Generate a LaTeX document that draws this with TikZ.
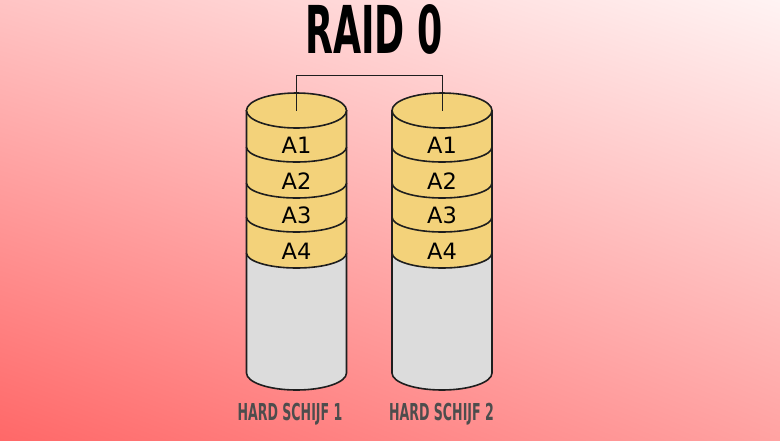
\documentclass[tikz,border=0pt]{standalone}
\usepackage{fontspec}
\setmainfont{DejaVu Sans}
\usepackage{graphicx}
\usetikzlibrary{shadings}
\definecolor{bgUL}{HTML}{FFC4C4}
\definecolor{bgUR}{HTML}{FFF3F3}
\definecolor{bgLL}{HTML}{FF6868}
\definecolor{bgLR}{HTML}{FFA2A2}
\definecolor{layer}{HTML}{F3D27A}
\definecolor{body}{HTML}{DCDCDC}
\definecolor{edge}{HTML}{1E1E1E}
\definecolor{caption}{HTML}{4D4D4D}
\tikzset{
  outline/.style={draw=edge, line width=1.6pt},
  layerfill/.style={fill=layer},
  bodyfill/.style={fill=body},
  lbl/.style={font=\fontsize{22.5}{22.5}\selectfont, text=black, inner sep=0pt},
  captionstyle/.style={font=\fontsize{23.3}{23.3}\selectfont\bfseries, text=caption, inner sep=0pt, anchor=base},
  wire/.style={draw=edge, line width=1pt},
  disk/.pic={
    % gray body
    \fill[bodyfill] (-50,-253) -- (-50,-373) arc[start angle=180,end angle=360,x radius=50,y radius=17] -- (50,-253) -- cycle;
    \draw[outline] (-50,-253) -- (-50,-373) arc[start angle=180,end angle=360,x radius=50,y radius=17] -- (50,-253);
    % layers from bottom to top
    \foreach \yt/\yb in {217/253,183/217,147/183,110/147}{
      \fill[layerfill] (-50,-\yt) -- (-50,-\yb) arc[start angle=180,end angle=360,x radius=50,y radius=15] -- (50,-\yt) -- cycle;
      \draw[outline] (-50,-\yt) -- (-50,-\yb) arc[start angle=180,end angle=360,x radius=50,y radius=15] -- (50,-\yt);
    }
    % top ellipse
    \filldraw[layerfill, outline] (0,-110.5) ellipse[x radius=50, y radius=17.5];
    \coordinate (-top) at (0,-110.5);
    \node[lbl] (-a1) at (0,-145.5) {A1};
    \node[lbl] (-a2) at (0,-181.5) {A2};
    \node[lbl] (-a3) at (0,-215.5) {A3};
    \node[lbl] (-a4) at (0,-251) {A4};
  }
}
\begin{document}
\begin{tikzpicture}[x=1pt,y=1pt]
\useasboundingbox (0,-440) rectangle (780,0);
\shade[upper left=bgUL, upper right=bgUR, lower left=bgLL, lower right=bgLR] (0,-440) rectangle (780,0);
\node[inner sep=0pt, anchor=base] (title) at (374,-53) {\scalebox{0.55}[1]{\fontsize{66}{66}\selectfont\bfseries RAID 0}};
\pic (d1) at (296.5,0) {disk};
\pic (d2) at (442,0) {disk};
\coordinate (bus) at (0,-75);
\draw[wire] (d1-top) -- (d1-top |- bus) -| (d2-top);
\node[captionstyle] (c1) at (290,-420) {\scalebox{0.54}[1]{HARD SCHIJF 1}};
\node[captionstyle] (c2) at (441.5,-420) {\scalebox{0.54}[1]{HARD SCHIJF 2}};
\end{tikzpicture}
\end{document}
